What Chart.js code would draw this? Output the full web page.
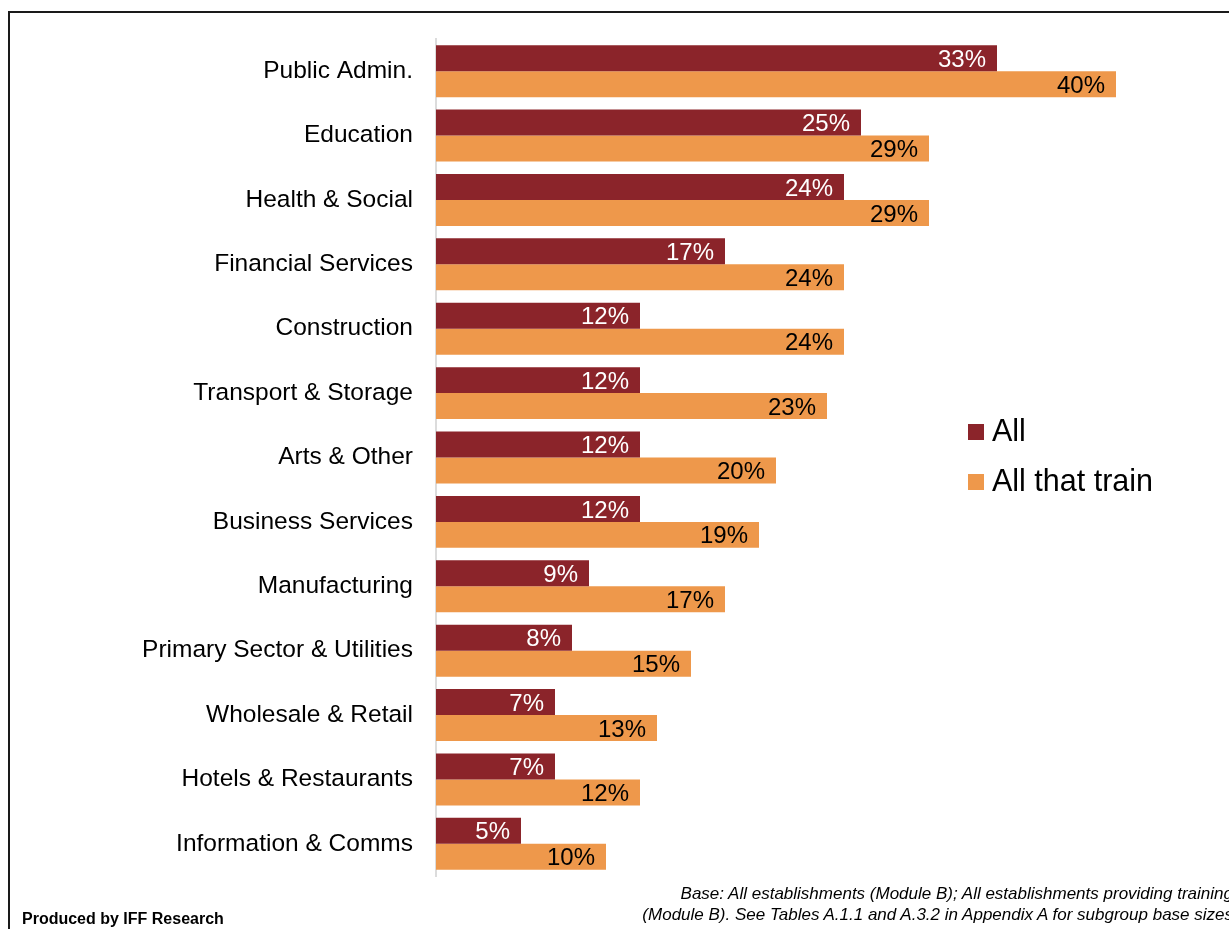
<!DOCTYPE html>
<html>
<head>
<meta charset="utf-8">
<title>Training by sector</title>
<script src="https://cdn.jsdelivr.net/npm/chart.js@4/dist/chart.umd.min.js"></script>
<style>
  html, body { margin: 0; padding: 0; background: #fff; overflow: hidden; }
  body { width: 1229px; height: 929px; position: relative; font-family: "Liberation Sans", Arial, sans-serif; }
  .frame { position: absolute; left: 8px; top: 11px; width: 1300px; height: 1000px; border: 2px solid #1a1a1a; }
  .wrap { position: absolute; left: 0; top: 0; width: 1229px; height: 929px; }
  .produced { position: absolute; left: 22px; top: 910px; font-size: 16px; font-weight: bold; color: #000; }
  .base { position: absolute; right: -4px; top: 883px; font-size: 17px; font-style: italic; color: #000; text-align: right; line-height: 21px; white-space: nowrap; }
</style>
</head>
<body>
<div class="frame"></div>
<div class="wrap"><canvas id="sectorChart"></canvas></div>
<div class="base">Base: All establishments (Module B); All establishments providing training<br>(Module B). See Tables A.1.1 and A.3.2 in Appendix A for subgroup base sizes</div>
<div class="produced">Produced by IFF Research</div>
<script>
// sectors, top to bottom
const sectors = [
    'Public Admin.', 'Education', 'Health & Social', 'Financial Services',
    'Construction', 'Transport & Storage', 'Arts & Other', 'Business Services',
    'Manufacturing', 'Primary Sector & Utilities', 'Wholesale & Retail',
    'Hotels & Restaurants', 'Information & Comms'
];
// % of establishments
const allEstablishments = [33, 25, 24, 17, 12, 12, 12, 12, 9, 8, 7, 7, 5];
const allThatTrain = [40, 29, 29, 24, 24, 23, 20, 19, 17, 15, 13, 12, 10];

const FONT = '"Liberation Sans", Arial, sans-serif';

// value labels drawn inside the bar ends
const barValueLabels = {
    id: 'barValueLabels',
    afterDatasetsDraw(chart) {
        const ctx = chart.ctx;
        ctx.save();
        ctx.font = '24px ' + FONT;
        ctx.textAlign = 'right';
        ctx.textBaseline = 'middle';
        chart.data.datasets.forEach((ds, i) => {
            const meta = chart.getDatasetMeta(i);
            ctx.fillStyle = ds.labelColor;
            meta.data.forEach((bar, j) => {
                ctx.fillText(ds.data[j] + '%', bar.x - 11, bar.y + 2);
            });
        });
        ctx.restore();
    }
};

// legend sits over the empty right side of the plot
const sideLegend = {
    id: 'sideLegend',
    afterDraw(chart, args, opts) {
        const ctx = chart.ctx;
        ctx.save();
        ctx.font = opts.fontSize + 'px ' + FONT;
        ctx.textBaseline = 'middle';
        ctx.textAlign = 'left';
        chart.data.datasets.forEach((ds, i) => {
            const y = opts.y + i * opts.rowGap;
            ctx.fillStyle = ds.backgroundColor;
            ctx.fillRect(opts.x, y - opts.box / 2, opts.box, opts.box);
            ctx.fillStyle = '#000';
            ctx.fillText(ds.label, opts.x + opts.box + 8, y + 1);
        });
        ctx.restore();
    }
};

const ctx = document.getElementById('sectorChart').getContext('2d');
new Chart(ctx, {
    type: 'bar',
    data: {
        labels: sectors,
        datasets: [{
            label: 'All',
            data: allEstablishments,
            backgroundColor: '#8b242a',
            labelColor: '#ffffff',
            categoryPercentage: 0.807,
            barPercentage: 1
        }, {
            label: 'All that train',
            data: allThatTrain,
            backgroundColor: '#ee984b',
            labelColor: '#000000',
            categoryPercentage: 0.807,
            barPercentage: 1
        }]
    },
    options: {
        indexAxis: 'y',
        responsive: true,
        maintainAspectRatio: false,
        animation: false,
        layout: {padding: {top: 39, bottom: 53, left: 0, right: 28}},
        plugins: {
            legend: {display: false},
            tooltip: {enabled: false},
            sideLegend: {x: 968, y: 432, rowGap: 50, box: 16, fontSize: 30.5}
        },
        scales: {
            x: {
                display: false,
                min: 0,
                max: 45
            },
            y: {
                grid: {display: false, drawTicks: false},
                border: {display: true, color: '#dcdcdc', width: 2},
                ticks: {color: '#000', padding: 23, font: {family: FONT, size: 24.5}},
                afterFit(scale) { scale.width = 436; }
            }
        }
    },
    plugins: [barValueLabels, sideLegend]
});
</script>
</body>
</html>
